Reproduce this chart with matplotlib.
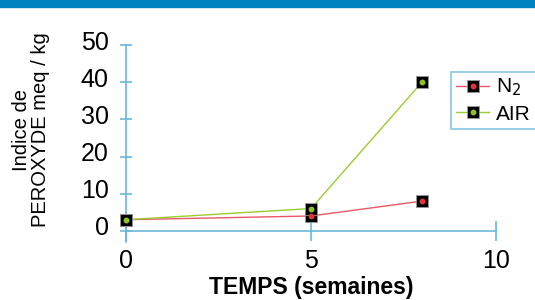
import matplotlib.pyplot as plt
from matplotlib.patches import Rectangle
import matplotlib.transforms as mtransforms

plt.rcParams['font.family'] = ['Liberation Sans', 'DejaVu Sans']

# data
weeks = [0, 5, 8]
n2 = [3, 4, 8]
air = [3, 6, 40]
xticks = [0, 5, 10]
yticks = [0, 10, 20, 30, 40, 50]

axis_col = '#6BB8DA'
red = '#E8303C'
green = '#8DC21F'

fig = plt.figure(figsize=(5.35, 3.0), dpi=100)
fig.patches.append(Rectangle((0, 1 - 7 / 300), 1, 7 / 300, transform=fig.transFigure,
                             color='#0082BE', zorder=0))

ax = fig.add_axes([126 / 535, 58 / 300, 370 / 535, 197 / 300])
ax.set_xlim(0, 10)
ax.set_ylim(-3, 50)
for s in ['top', 'right']:
    ax.spines[s].set_visible(False)
ax.spines['bottom'].set_position(('data', 0))
ax.spines['bottom'].set_color(axis_col)
ax.spines['left'].set_color(axis_col)
ax.spines['bottom'].set_linewidth(1.2)
ax.spines['left'].set_linewidth(1.2)

ax.set_xticks(xticks)
ax.set_yticks(yticks)
ax.tick_params(axis='x', direction='inout', length=14, width=1.2, color=axis_col,
               labelsize=18, pad=6)
ax.tick_params(axis='y', direction='inout', length=9, width=1.2, color=axis_col,
               labelsize=18, pad=8)
off = mtransforms.ScaledTranslation(0, 5 / 100, fig.dpi_scale_trans)
for lab in ax.get_yticklabels():
    lab.set_transform(lab.get_transform() + off)

l1, = ax.plot(weeks, n2, color='#E85868', lw=1, marker='s', ms=8, mfc='black',
              mec='#999999', mew=0.6, clip_on=False, zorder=3)
d1, = ax.plot(weeks, n2, ls='none', marker='o', ms=3.2, color=red, clip_on=False, zorder=4)
l2, = ax.plot(weeks, air, color='#9ACD32', lw=1, marker='s', ms=8, mfc='black',
              mec='#999999', mew=0.6, clip_on=False, zorder=3)
d2, = ax.plot(weeks, air, ls='none', marker='o', ms=3.2, color=green, clip_on=False, zorder=4)
# AIR start point sits on top of N2 in the original
ax.plot(weeks[:1], air[:1], ls='none', marker='s', ms=8, mfc='black', mec='#999999',
        mew=0.6, clip_on=False, zorder=5)
ax.plot(weeks[:1], air[:1], ls='none', marker='o', ms=3.2, color=green, clip_on=False, zorder=6)

ax.set_xlabel('TEMPS (semaines)', fontsize=16.5, fontweight='bold', labelpad=2)

fig.text(0.058, 0.567, 'Indice de\nPEROXYDE meq / kg', rotation=90, ha='center', va='center',
         fontsize=14.5, linespacing=1.05)

leg = ax.legend([(l1, d1), (l2, d2)], ['N$_2$', 'AIR'], loc='upper left',
                bbox_to_anchor=(0.878, 0.865), fontsize=15, frameon=True, fancybox=False,
                handlelength=1.6, handletextpad=0.3, borderpad=0.25, labelspacing=0.3,
                borderaxespad=0)
leg.get_frame().set_edgecolor(axis_col)
leg.get_frame().set_linewidth(1.2)

fig.savefig('out.png', dpi=100)
